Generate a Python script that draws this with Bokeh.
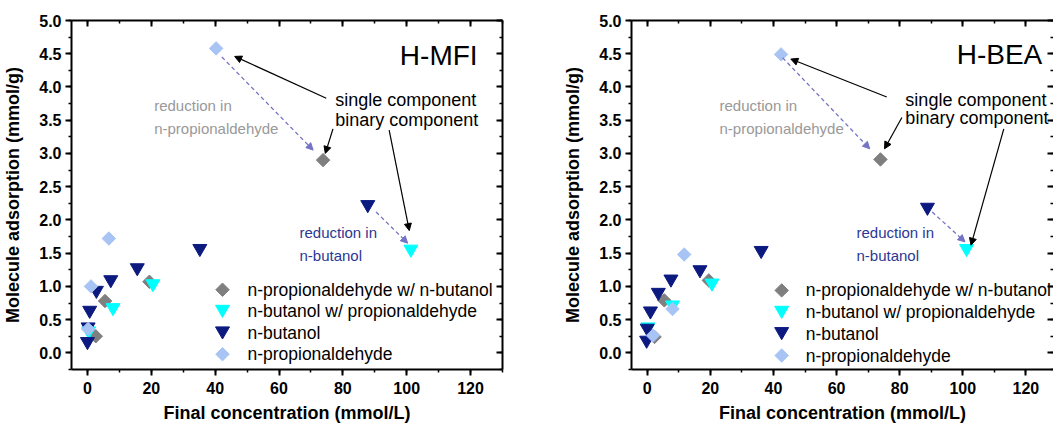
from math import pi
from bokeh.plotting import figure
from bokeh.models import (Range1d, LinearAxis, SingleIntervalTicker,
                          Arrow, NormalHead, Label, NumeralTickFormatter, CustomJSTickFormatter)
from bokeh.layouts import row
from bokeh.embed import file_html
from bokeh.resources import INLINE

# ---------------- data ----------------
series_names = ["n-propionaldehyde w/ n-butanol", "n-butanol w/ propionaldehyde",
                "n-butanol", "n-propionaldehyde"]

# H-MFI
mfi_pa_bu_x = [73.8, 19.4, 5.5, 2.6]
mfi_pa_bu_y = [2.90, 1.07, 0.78, 0.25]
mfi_bu_pa_x = [101.3, 20.5, 8.0, 0.4]
mfi_bu_pa_y = [1.56, 1.04, 0.68, 0.33]
mfi_bu_x = [87.8, 35.2, 15.6, 7.3, 2.8, 0.7, 0.2, 0.0]
mfi_bu_y = [2.23, 1.57, 1.28, 1.10, 0.94, 0.64, 0.39, 0.17]
mfi_pa_x = [40.3, 6.7, 1.1, 0.2]
mfi_pa_y = [4.58, 1.72, 1.00, 0.36]

# H-BEA
bea_pa_bu_x = [73.9, 19.5, 5.4, 2.3]
bea_pa_bu_y = [2.91, 1.09, 0.79, 0.24]
bea_bu_pa_x = [101.2, 20.5, 8.0, 0.2]
bea_bu_pa_y = [1.57, 1.05, 0.72, 0.39]
bea_bu_x = [88.8, 36.1, 16.7, 7.5, 3.5, 1.0, 0.0, -0.2]
bea_bu_y = [2.19, 1.54, 1.25, 1.11, 0.91, 0.63, 0.37, 0.19]
bea_pa_x = [42.4, 11.7, 8.0, 1.8]
bea_pa_y = [4.49, 1.48, 0.66, 0.26]

# ---------------- styles ----------------
FONT = "Liberation Sans"
C_GREY = "#7f7f7f"
C_CYAN = "#00ffff"
C_NAVY = "#0c1a80"
C_LBLUE = "#a7c4f4"
C_TXT_GREY = "#999999"
C_TXT_NAVY = "#2b3894"
C_DASH = "#7474c4"

MARKERS = [("square", pi / 4, 9.5, C_GREY),
           ("inverted_triangle", 0, 14, C_CYAN),
           ("inverted_triangle", 0, 14, C_NAVY),
           ("square", pi / 4, 9.5, C_LBLUE)]


def style_axis(ax, tick_in, tick_out, labels=True):
    ax.axis_line_width = 2
    ax.axis_line_color = "black"
    ax.major_tick_line_width = 2
    ax.minor_tick_line_width = 1.5
    ax.major_tick_in = tick_in
    ax.major_tick_out = tick_out
    ax.minor_tick_in = tick_in // 2
    ax.minor_tick_out = tick_out // 2
    if labels:
        ax.major_label_text_font = FONT
        ax.major_label_text_font_style = "bold"
        ax.major_label_text_font_size = "16px"
        ax.major_label_text_color = "black"
        ax.axis_label_text_font = FONT
        ax.axis_label_text_font_style = "bold"
        ax.axis_label_text_font_size = "18px"
        ax.axis_label_text_color = "black"
    else:
        ax.formatter = CustomJSTickFormatter(code="return ''")
        ax.major_label_text_font_size = "1px"
        ax.major_label_standoff = 0


def panel(name, xr_end, width, bl, br, data, ann, right_line=True):
    p = figure(width=width, height=425, output_backend="svg", toolbar_location=None,
               x_range=Range1d(-5, xr_end), y_range=Range1d(-0.25, 5.0),
               min_border_left=bl, min_border_right=br, min_border_top=20,
               min_border_bottom=56)
    p.outline_line_color = None
    p.grid.visible = False
    p.background_fill_color = "white"
    p.border_fill_color = "white"

    xa = p.xaxis[0]
    xa.ticker = SingleIntervalTicker(interval=20, num_minor_ticks=2)
    style_axis(xa, 0, 6)
    xa.major_label_standoff = 6
    xa.axis_label = "Final concentration (mmol/L)"
    xa.axis_label_standoff = 6

    ya = p.yaxis[0]
    ya.ticker = SingleIntervalTicker(interval=0.5, num_minor_ticks=2)
    ya.formatter = NumeralTickFormatter(format="0.0")
    style_axis(ya, 0, 6)
    ya.major_label_standoff = 4
    ya.axis_label = "Molecule adsorption (mmol/g)"
    ya.axis_label_standoff = 13

    top = LinearAxis(ticker=SingleIntervalTicker(interval=20, num_minor_ticks=2))
    style_axis(top, 6, 0, labels=False)
    p.add_layout(top, "above")
    right = LinearAxis(ticker=SingleIntervalTicker(interval=0.5, num_minor_ticks=2))
    style_axis(right, 6, 0, labels=False)
    if not right_line:
        right.axis_line_color = None
    p.add_layout(right, "right")

    # series (drawn grey, cyan, navy, light blue)
    for (xs, ys), (mk, ang, sz, col) in zip(data, MARKERS):
        p.scatter(xs, ys, marker=mk, angle=ang, size=sz, fill_color=col, line_color=col)

    # legend (drawn by hand so the diamonds keep their shape and size)
    for i, (nm, (mk, ang, sz, col)) in enumerate(zip(series_names, MARKERS)):
        yrow = ann["leg_y"][i] + (0.03 if mk == "inverted_triangle" else 0)
        p.scatter([ann["leg_mx"]], [yrow], marker=mk, angle=ang, size=sz,
                  fill_color=col, line_color=col)
        p.add_layout(Label(x=ann["leg_tx"], y=ann["leg_y"][i], text=nm,
                           text_baseline="middle", text_font=FONT,
                           text_font_size="17.5px", text_color="black"))

    # annotations
    p.add_layout(Label(x=ann["title_x"], y=ann["title_y"], text=name, text_align="right",
                       text_baseline="middle", text_font=FONT, text_font_size="28px",
                       text_color="black"))
    p.add_layout(Label(x=ann["sc_x"], y=ann["sc_y"], text="single component",
                       text_baseline="middle", text_font=FONT, text_font_size="18px",
                       text_color="black"))
    p.add_layout(Label(x=ann["sc_x"], y=ann["bc_y"], text="binary component",
                       text_baseline="middle", text_font=FONT, text_font_size="18px",
                       text_color="black"))
    p.add_layout(Label(x=ann["rp_x"], y=3.72, text="reduction in",
                       text_baseline="middle", text_font=FONT, text_font_size="15px",
                       text_color=C_TXT_GREY))
    p.add_layout(Label(x=ann["rp_x"], y=3.38, text="n-propionaldehyde",
                       text_baseline="middle", text_font=FONT, text_font_size="15px",
                       text_color=C_TXT_GREY))
    p.add_layout(Label(x=ann["rb_x"], y=1.81, text="reduction in",
                       text_baseline="middle", text_font=FONT, text_font_size="15px",
                       text_color=C_TXT_NAVY))
    p.add_layout(Label(x=ann["rb_x"], y=1.47, text="n-butanol",
                       text_baseline="middle", text_font=FONT, text_font_size="15px",
                       text_color=C_TXT_NAVY))

    for (x0, y0, x1, y1) in ann["black"]:
        p.add_layout(Arrow(end=NormalHead(size=7, fill_color="black", line_color="black",
                                          line_width=1),
                           x_start=x0, y_start=y0, x_end=x1, y_end=y1,
                           line_color="black", line_width=1.2))
    for (x0, y0, x1, y1) in ann["dash"]:
        p.add_layout(Arrow(end=NormalHead(size=7, fill_color=C_DASH, line_color=C_DASH,
                                          line_width=1),
                           x_start=x0, y_start=y0, x_end=x1, y_end=y1,
                           line_color=C_DASH, line_width=1.3, line_dash="4 3"))
    return p


ann_mfi = dict(leg_mx=42.3, leg_tx=50.1, leg_y=[0.95, 0.625, 0.30, -0.02],
               title_x=122.2, title_y=4.47,
               sc_x=77.6, sc_y=3.80, bc_y=3.51, rp_x=20.9, rb_x=66.4,
               black=[(74.8, 3.83, 46.1, 4.46), (76.9, 3.37, 74.5, 3.0),
                      (94.5, 3.35, 100.8, 1.84)],
               dash=[(42.1, 4.45, 70.7, 3.05), (90.4, 2.12, 100.3, 1.65)])
ann_bea = dict(leg_mx=42.6, leg_tx=50.2, leg_y=[0.94, 0.61, 0.29, -0.04],
               title_x=125.2, title_y=4.49,
               sc_x=81.8, sc_y=3.81, bc_y=3.53, rp_x=22.9, rb_x=66.3,
               black=[(75.9, 3.85, 45.5, 4.42), (80.7, 3.54, 75.2, 3.07),
                      (113.0, 3.37, 102.6, 1.62)],
               dash=[(42.9, 4.44, 70.5, 3.07), (90.3, 2.12, 100.7, 1.67)])

p1 = panel("H-MFI", 130, 560, 69, 58,
           [(mfi_pa_bu_x, mfi_pa_bu_y), (mfi_bu_pa_x, mfi_bu_pa_y),
            (mfi_bu_x, mfi_bu_y), (mfi_pa_x, mfi_pa_y)], ann_mfi)
p2 = panel("H-BEA", 128.75, 493, 65, 0,
           [(bea_pa_bu_x, bea_pa_bu_y), (bea_bu_pa_x, bea_bu_pa_y),
            (bea_bu_x, bea_bu_y), (bea_pa_x, bea_pa_y)], ann_bea, right_line=False)

layout = row(p1, p2, spacing=0)
open("out.html", "w").write(file_html(layout, INLINE))
